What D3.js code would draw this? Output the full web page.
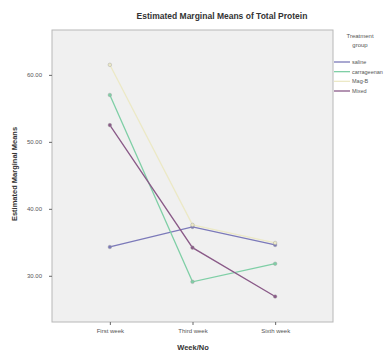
<!DOCTYPE html>
<html>
<head>
<meta charset="utf-8">
<script src="https://cdn.jsdelivr.net/npm/d3@7"></script>
<style>
  body { margin: 0; background: #fff; }
  svg { display: block; font-family: "Liberation Sans", Arial, sans-serif; }
</style>
</head>
<body>
<svg id="chart" width="388" height="356"></svg>
<script>
// data
const weeks = ["First week", "Third week", "Sixth week"];
const groups = ["saline", "carrageenan", "Mag-B", "Mixed"];
const salineVals = [34.3, 37.3, 34.6];
const carrageenanVals = [57.0, 29.1, 31.8];
const magVals = [61.5, 37.6, 34.9];
const mixedVals = [52.5, 34.2, 26.9];
const yTicks = [30, 40, 50, 60];

const series = [
  { name: groups[0], values: salineVals, color: "#7b79b9" },
  { name: groups[1], values: carrageenanVals, color: "#7fcfa6" },
  { name: groups[2], values: magVals, color: "#ece9c6" },
  { name: groups[3], values: mixedVals, color: "#8a5a88" }
];

const svg = d3.select("#chart");
const plotLeft = 52, plotTop = 30, plotRight = 333, plotBottom = 322;

const x = d3.scalePoint()
  .domain(weeks)
  .range([plotLeft, plotRight])
  .padding(0.7);

const y = d3.scaleLinear()
  .domain([23.1, 66.7])
  .range([plotBottom, plotTop]);

// plot background
svg.append("rect")
  .attr("x", plotLeft)
  .attr("y", plotTop)
  .attr("width", plotRight - plotLeft)
  .attr("height", plotBottom - plotTop)
  .attr("fill", "#f0f0f0")
  .attr("stroke", "#b8b8b8")
  .attr("stroke-width", 1);

// title
svg.append("text")
  .attr("x", 222)
  .attr("y", 19)
  .attr("text-anchor", "middle")
  .attr("font-size", 8.5)
  .attr("font-weight", "bold")
  .attr("fill", "#333")
  .text("Estimated Marginal Means of Total Protein");

// y axis
const yAxis = svg.append("g")
  .attr("transform", "translate(" + plotLeft + ",0)")
  .call(d3.axisLeft(y).tickValues(yTicks).tickFormat(d3.format(".2f")).tickSize(3));
yAxis.select(".domain").remove();
yAxis.selectAll("line").attr("stroke", "#666");
yAxis.selectAll("text").attr("font-size", 6).attr("fill", "#555").attr("dx", "-4");

// x axis
const xAxis = svg.append("g")
  .attr("transform", "translate(0," + plotBottom + ")")
  .call(d3.axisBottom(x).tickSize(3));
xAxis.select(".domain").remove();
xAxis.selectAll("line").attr("stroke", "#666");
xAxis.selectAll("text").attr("font-size", 6).attr("fill", "#555").attr("dy", "0.9em");

// axis titles
svg.append("text")
  .attr("x", 193)
  .attr("y", 350)
  .attr("text-anchor", "middle")
  .attr("font-size", 7.5)
  .attr("font-weight", "bold")
  .attr("fill", "#333")
  .text("Week/No");

svg.append("text")
  .attr("transform", "translate(17,174) rotate(-90)")
  .attr("text-anchor", "middle")
  .attr("font-size", 7.5)
  .attr("font-weight", "bold")
  .attr("fill", "#333")
  .text("Estimated Marginal Means");

// lines and markers
const line = d3.line()
  .x((d, i) => x(weeks[i]))
  .y(d => y(d));

series.forEach(s => {
  svg.append("path")
    .datum(s.values)
    .attr("d", line)
    .attr("fill", "none")
    .attr("stroke", s.color)
    .attr("stroke-width", 1.3);

  svg.selectAll(null)
    .data(s.values)
    .enter()
    .append("circle")
    .attr("cx", (d, i) => x(weeks[i]))
    .attr("cy", d => y(d))
    .attr("r", 1.8)
    .attr("fill", s.color)
    .attr("stroke", "#999")
    .attr("stroke-width", 0.4);
});

// legend
const lg = svg.append("g");
lg.append("text")
  .attr("x", 360)
  .attr("y", 38)
  .attr("text-anchor", "middle")
  .attr("font-size", 6)
  .attr("fill", "#555")
  .text("Treatment");
lg.append("text")
  .attr("x", 360)
  .attr("y", 47)
  .attr("text-anchor", "middle")
  .attr("font-size", 6)
  .attr("fill", "#555")
  .text("group");

const legendY = d3.scalePoint()
  .domain(groups)
  .range([62, 91]);

series.forEach(s => {
  lg.append("line")
    .attr("x1", 334)
    .attr("x2", 350)
    .attr("y1", legendY(s.name))
    .attr("y2", legendY(s.name))
    .attr("stroke", s.color)
    .attr("stroke-width", 1.3);
  lg.append("text")
    .attr("x", 352)
    .attr("y", legendY(s.name) + 2)
    .attr("font-size", 5.5)
    .attr("fill", "#555")
    .text(s.name);
});
</script>
</body>
</html>
